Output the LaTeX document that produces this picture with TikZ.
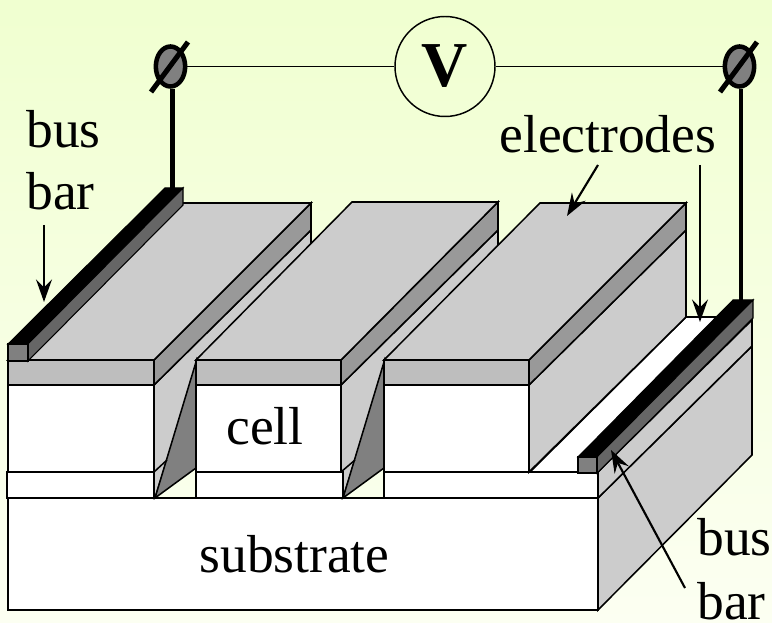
\documentclass[tikz,border=0pt]{standalone}
\usepackage{fontspec}
\setmainfont{Liberation Serif}
\usetikzlibrary{arrows.meta,shapes.geometric}
\definecolor{topg}{HTML}{CCCCCC}
\definecolor{bandf}{HTML}{BEBEBE}
\definecolor{bands}{HTML}{999999}
\definecolor{wedge}{HTML}{808080}
\definecolor{bars}{HTML}{666666}
\definecolor{bga}{HTML}{F0FFD0}
\definecolor{bgb}{HTML}{FCFFF2}
\tikzset{
  ln/.style={draw=black,line width=1.15pt,line join=miter},
  lbl/.style={anchor=base west,inner sep=0pt,outer sep=0pt,font=\fontsize{40.1}{44}\selectfont},
  term/.style={ellipse,draw=black,line width=3.4pt,fill=wedge,minimum width=22pt,minimum height=30pt,inner sep=0pt},
  wire/.style={draw=black,line width=1.1pt},
  post/.style={draw=black,line width=3.7pt},
  slash/.style={draw=black,line width=3.8pt},
  pointer/.style={draw=black,line width=1.6pt,-{Stealth[length=17pt,width=12pt,inset=6pt]}},
}
\begin{document}
\begin{tikzpicture}[x=0.75pt,y=-0.75pt]
\useasboundingbox (0,0) rectangle (772,623);
\shade[shading=axis,shading angle=135,top color=bga,bottom color=bgb] (0,0) rectangle (772,623);
% substrate
\path[ln,fill=white] (8,498) rectangle (598,610);
\path[ln,fill=topg] (598,498) -- (752,346) -- (752,455) -- (598,610) -- cycle;
% bottom layer right side
\path[ln,fill=topg] (598,472) -- (752,320) -- (752,346) -- (598,498) -- cycle;
% white floor behind the third block
\path[ln,fill=white] (530,472) -- (686,317) -- (740,317) -- (598,472) -- cycle;
% third block
\path[ln,fill=white] (384,472) rectangle (598,498);
\path[ln,fill=topg] (529,385) -- (686,230) -- (686,317) -- (529,472) -- cycle;
% gap 2 back wall
\path[ln,fill=topg] (341,385) -- (498,230) -- (498,260) -- (384,360) -- (384,368) -- (343,498) -- (341,498) -- cycle;
\path[ln,fill=wedge] (343,498) -- (384,362) -- (384,468) -- cycle;
\draw[ln] (341,472) -- (355,460);
% second block
\path[ln,fill=white] (196,472) rectangle (343,498);
\path[ln,fill=white] (196,385) rectangle (341,472);
\path[ln,fill=bandf] (196,360) rectangle (341,385);
\path[ln,fill=bands] (341,360) -- (498,202) -- (498,230) -- (341,385) -- cycle;
% gap 1
\path[ln,fill=topg] (154,385) -- (311,230) -- (311,258) -- (196,360) -- (196,368) -- (155,498) -- (154,498) -- cycle;
\path[ln,fill=wedge] (155,498) -- (196,362) -- (196,468) -- cycle;
\draw[ln] (154,472) -- (167,460);
% first block
\path[ln,fill=white] (7,472) rectangle (154,498);
\path[ln,fill=white] (8,385) rectangle (154,472);
\path[ln,fill=bandf] (8,360) rectangle (154,385);
\path[ln,fill=bands] (154,360) -- (311,203) -- (311,230) -- (154,385) -- cycle;
\path[ln,fill=topg] (8,360) -- (154,360) -- (311,203) -- (165,203) -- cycle;
% second top
\path[ln,fill=topg] (196,360) -- (341,360) -- (498,202) -- (352,202) -- cycle;
% third block front
\path[ln,fill=white] (384,385) rectangle (529,472);
\path[ln,fill=bandf] (384,360) rectangle (529,385);
\path[ln,fill=bands] (529,360) -- (686,203) -- (686,230) -- (529,385) -- cycle;
\path[ln,fill=topg] (384,360) -- (529,360) -- (686,203) -- (540,203) -- cycle;
% left bus bar
\path[ln,line width=0.8pt,fill=black] (8,344) -- (28,344) -- (183,188) -- (165,188) -- cycle;
\path[ln,line width=0.8pt,fill=bars] (28,344) -- (183,188) -- (183,205) -- (28,361) -- cycle;
\path[ln,line width=0.8pt,fill=wedge] (8,344) rectangle (28,361);
% right bus bar
\path[ln,line width=0.8pt,fill=black] (578,457) -- (597,457) -- (753,300) -- (733,300) -- cycle;
\path[ln,line width=0.8pt,fill=bars] (597,457) -- (753,300) -- (753,318) -- (597,473) -- cycle;
\path[ln,line width=0.8pt,fill=wedge] (578,457) rectangle (597,473);
% voltmeter and terminals
\coordinate (lbase) at (172.5,188);
\coordinate (rbase) at (741,300);
\node[circle,draw=black,line width=1.1pt,minimum size=75pt,inner sep=0pt,font=\bfseries\fontsize{48}{52}\selectfont] (V) at (445,66.5) {V};
\node[term] (tl) at (170.5,66.5) {};
\node[term] (tr) at (739.5,66.5) {};
\draw[wire] (tl) -- (V);
\draw[wire] (V) -- (tr);
\draw[post] (tl.south -| lbase) -- (lbase);
\draw[post] (tr.south -| rbase) -- (rbase);
\coordinate (sla) at (151,92); \coordinate (slb) at (188,42);
\coordinate (sra) at (720,92); \coordinate (srb) at (757,42);
\draw[slash] (sla) -- (slb);
\draw[slash] (sra) -- (srb);
% labels
\node[lbl] (bus1) at (26.5,148) {bus};
\node[lbl] (bar1) at (26.5,210) {bar};
\node[lbl] (el) at (499.5,153) {electrodes};
\node[lbl] (cell) at (226.5,445) {cell};
\node[lbl] (sub) at (199.5,573) {substrate};
\node[lbl] (bus2) at (697.5,556) {bus};
\node[lbl] (bar2) at (697.5,620) {bar};
% pointers
\coordinate (p1a) at (44,225); \coordinate (p1b) at (44,302);
\coordinate (p2a) at (598,165); \coordinate (p2b) at (567,216);
\coordinate (p3a) at (700,165); \coordinate (p3b) at (700,322);
\coordinate (p4a) at (685,588); \coordinate (p4b) at (611,450);
\draw[pointer] (p1a) -- (p1b);
\draw[pointer] (p2a) -- (p2b);
\draw[pointer] (p3a) -- (p3b);
\draw[pointer] (p4a) -- (p4b);
\end{tikzpicture}
\end{document}
